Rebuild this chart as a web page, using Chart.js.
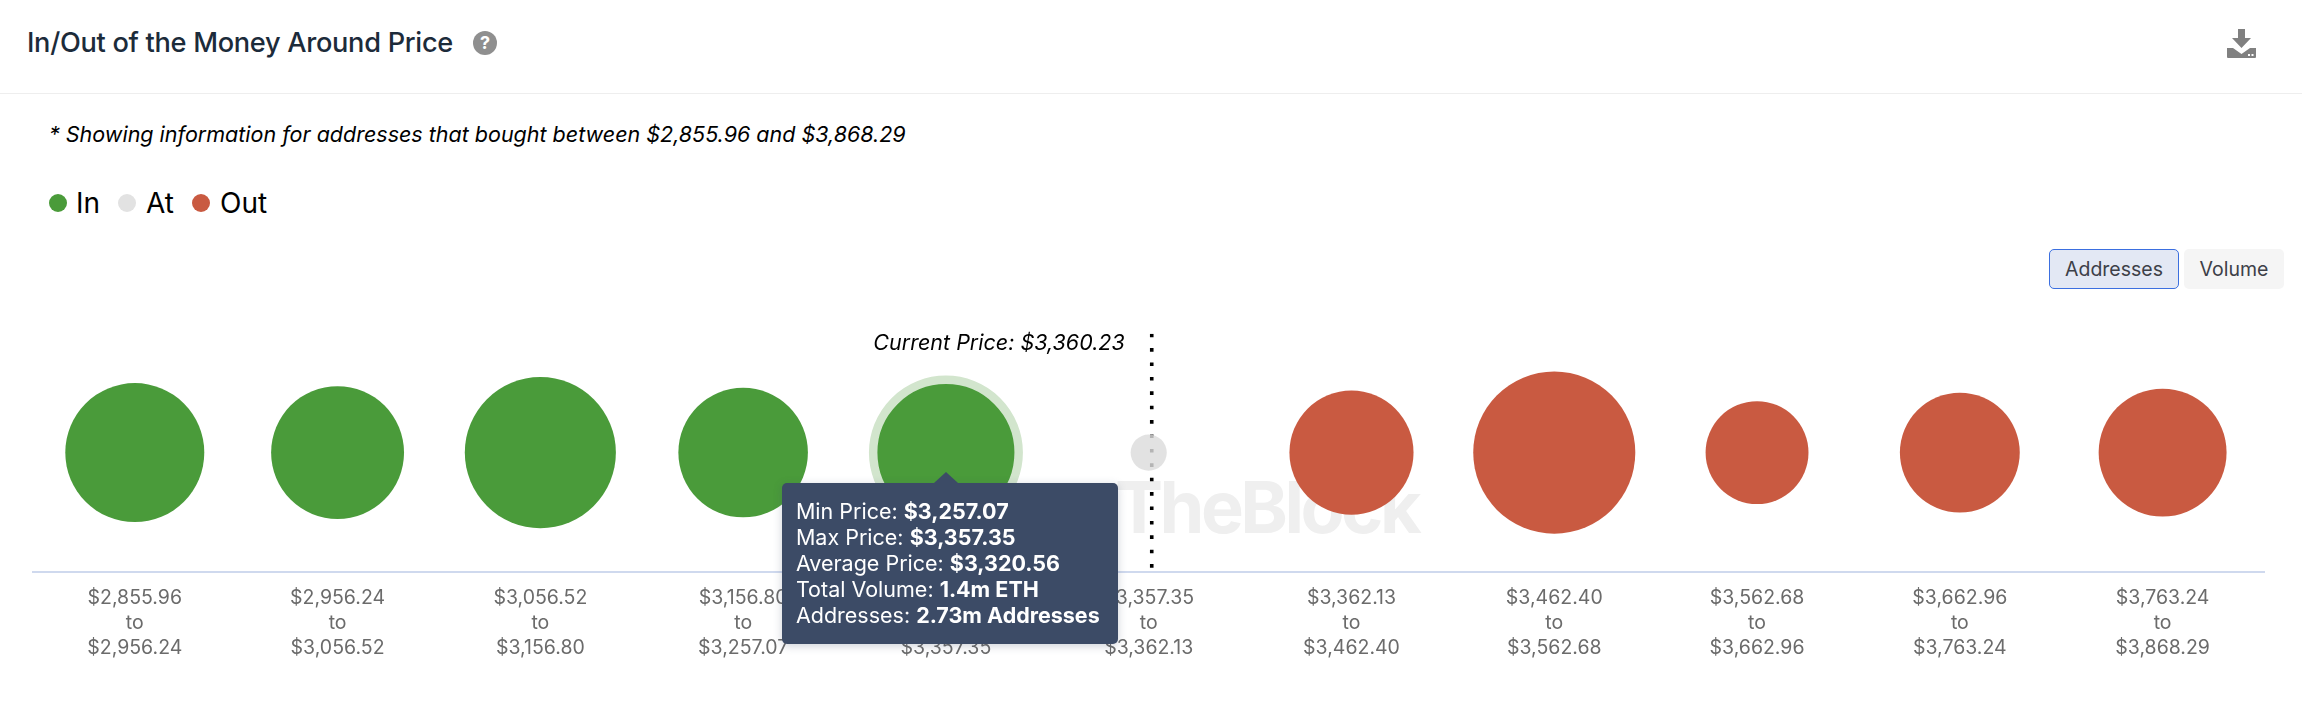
<!DOCTYPE html>
<html>
<head>
<meta charset="utf-8">
<title>In/Out of the Money Around Price</title>
<script src="https://cdn.jsdelivr.net/npm/chart.js@4"></script>
<style>
  html, body { margin: 0; background: #fff; }
  body { position: relative; width: 2302px; height: 707px; overflow: hidden; font-family: Inter, sans-serif; }
  .abs { position: absolute; white-space: nowrap; }
  #title { left: 27px; top: 25px; font-size: 27.2px; line-height: 36px; font-weight: 500; color: #1c2b3a; letter-spacing: -0.3px; }
  #help { left: 473px; top: 31px; width: 24px; height: 24px; border-radius: 50%; background: #8f8f8f; color: #fff; font-size: 18px; font-weight: 700; line-height: 24px; text-align: center; }
  #divider { left: 0; top: 93px; width: 2302px; height: 1px; background: #eeeeee; }
  #note { left: 49px; top: 119px; font-size: 21.5px; line-height: 30px; font-style: italic; color: #000; }
  .dot { width: 18px; height: 18px; border-radius: 50%; top: 194px; }
  .leg { top: 184px; font-size: 28px; line-height: 38px; color: #000; }
  .btn { top: 249px; height: 40px; line-height: 41px; box-sizing: border-box; text-align: center; font-size: 19.5px; color: #3d4048; border-radius: 5px; }
  #btnA { left: 2049px; width: 130px; background: #e3e8f4; border: 1.5px solid #3b6fe0; line-height: 38px; }
  #btnV { left: 2184px; width: 100px; background: #f5f5f5; }
  #mark { left: 1115px; top: 463px; font-size: 72px; line-height: 88px; font-weight: 700; color: #efefef; letter-spacing: -3.5px; }
  #chart { position: absolute; left: 0; top: 300px; }
  #tip { position: absolute; display: none; width: 336px; height: 161px; box-sizing: border-box; padding: 15px 0 0 14px; background: #3c4b66; border-radius: 5px; color: #fff; font-size: 21.5px; line-height: 26px; white-space: nowrap; box-shadow: 0 2px 8px rgba(60,75,102,.25); }
  #tip:before { content: ""; position: absolute; left: 152px; top: -11px; border: 12px solid transparent; border-top: 0; border-bottom: 11px solid #3c4b66; }
  #tip b { font-weight: 700; }
</style>
</head>
<body>
<div class="abs" id="title">In/Out of the Money Around Price</div>
<div class="abs" id="help">?</div>
<svg class="abs" style="left:2227px;top:29px" width="29" height="29" viewBox="0 0 29 29">
  <path fill="#808080" d="M11 0h7v9h6l-9.5 10L5 9h6z"/>
  <path fill="#808080" d="M0 19h6l8.5 6 8.5-6h6v9a1 1 0 0 1-1 1H1a1 1 0 0 1-1-1z"/>
  <rect fill="#fff" x="21" y="25" width="2" height="2"/><rect fill="#fff" x="24.5" y="25" width="2" height="2"/>
</svg>
<div class="abs" id="divider"></div>
<div class="abs" id="note">* Showing information for addresses that bought between $2,855.96 and $3,868.29</div>
<div class="abs dot" style="left:49px;background:#4a9b3a"></div><div class="abs leg" style="left:76px">In</div>
<div class="abs dot" style="left:118px;background:#e2e2e2"></div><div class="abs leg" style="left:146px">At</div>
<div class="abs dot" style="left:192px;background:#c95a41"></div><div class="abs leg" style="left:220px">Out</div>
<div class="abs btn" id="btnA">Addresses</div>
<div class="abs btn" id="btnV">Volume</div>
<div class="abs" id="mark">TheBlock</div>
<canvas id="chart" width="2302" height="407"></canvas>
<div id="tip"></div>

<script>
const rangeFrom = ["$2,855.96", "$2,956.24", "$3,056.52", "$3,156.80", "$3,257.07", "$3,357.35", "$3,362.13", "$3,462.40", "$3,562.68", "$3,662.96", "$3,763.24"];
const rangeTo = ["$2,956.24", "$3,056.52", "$3,156.80", "$3,257.07", "$3,357.35", "$3,362.13", "$3,462.40", "$3,562.68", "$3,662.96", "$3,763.24", "$3,868.29"];
const zones = ["in", "in", "in", "in", "in", "at", "out", "out", "out", "out", "out"];
const addresses = [2.81, 2.57, 3.32, 2.44, 2.73, 0.19, 2.24, 3.82, 1.54, 2.09, 2.38];

const hoveredIndex = 4;
const minPrice = "$3,257.07";
const maxPrice = "$3,357.35";
const avgPrice = "$3,320.56";
const totalVolume = "1.4m ETH";
const currentPrice = "$3,360.23";
const currentPricePos = 5.015;

const colors = { in: "#4a9b3a", at: "rgba(220,220,220,0.82)", out: "#c95a41" };
const rScale = 41.46; // px per sqrt(million addresses)

// Current price caption next to the dotted line
const priceLabel = {
  id: "priceLabel",
  afterDatasetsDraw(chart) {
    const { ctx, scales } = chart;
    ctx.save();
    ctx.font = "italic 21.5px Inter, sans-serif";
    ctx.fillStyle = "#000";
    ctx.textAlign = "right";
    ctx.textBaseline = "middle";
    ctx.fillText("Current Price: " + currentPrice, scales.x.getPixelForValue(currentPricePos) - 27, 44);
    ctx.restore();
  },
};

function drawTip({ chart, tooltip }) {
  const tip = document.getElementById("tip");
  if (!tooltip.opacity) { tip.style.display = "none"; return; }
  tip.innerHTML =
    `Min Price: <b>${minPrice}</b><br>Max Price: <b>${maxPrice}</b><br>` +
    `Average Price: <b>${avgPrice}</b><br>Total Volume: <b>${totalVolume}</b><br>` +
    `Addresses: <b>${addresses[hoveredIndex]}m Addresses</b>`;
  tip.style.display = "block";
  tip.style.left = chart.canvas.offsetLeft + tooltip.caretX - 164 + "px";
  tip.style.top = chart.canvas.offsetTop + tooltip.caretY + 30 + "px";
}

const chart = new Chart(document.getElementById("chart"), {
  type: "bubble",
  data: {
    datasets: [
      {
        label: "Addresses",
        order: 1,
        data: addresses.map((v, i) => ({ x: i, y: 0, r: rScale * Math.sqrt(v) })),
        backgroundColor: zones.map((s) => colors[s]),
        hoverBackgroundColor: zones.map((s) => colors[s]),
        borderWidth: 0,
        hoverRadius: 4.25,
        hoverBorderWidth: 8.5,
        hoverBorderColor: "#d2e5cd",
      },
      {
        type: "line",
        label: "Current Price",
        order: 2,
        data: [{ x: currentPricePos, y: 1 }, { x: currentPricePos, y: -1 }],
        borderColor: "#000",
        borderWidth: 3.6,
        borderDash: [3.6, 10.8],
        pointRadius: 0,
        fill: false,
      },
    ],
  },
  options: {
    responsive: false,
    animation: false,
    events: [],
    layout: { autoPadding: false, padding: { left: 33.4, right: 38, top: 33.7, bottom: 0 } },
    plugins: {
      legend: { display: false },
      tooltip: { enabled: false, external: drawTip, filter: (item) => item.datasetIndex === 0 },
    },
    scales: {
      x: {
        type: "linear",
        min: -0.5,
        max: 10.5,
        afterBuildTicks: (scale) => { scale.ticks = rangeFrom.map((_, i) => ({ value: i })); },
        afterFit: (scale) => { scale.height = 135.5; scale.paddingLeft = 0; scale.paddingRight = 0; },
        grid: { display: false },
        border: { color: "#cfd9ee", width: 2 },
        ticks: {
          autoSkip: false,
          maxRotation: 0,
          padding: 6,
          color: "#6b6b6b",
          font: { family: "Inter, sans-serif", size: 19.5, lineHeight: 25 / 19.5 },
          callback: (v) => [rangeFrom[v], "to", rangeTo[v]],
        },
      },
      y: { display: false, min: -1, max: 1 },
    },
  },
  plugins: [priceLabel],
});

const active = [{ datasetIndex: 0, index: hoveredIndex }];
chart.setActiveElements(active);
chart.tooltip.setActiveElements(active, { x: 0, y: 0 });
chart.update();
</script>
</body>
</html>
